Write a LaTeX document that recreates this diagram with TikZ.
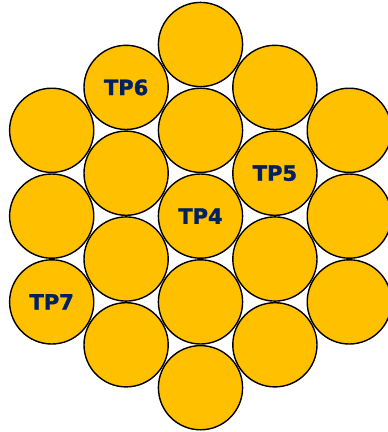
\documentclass[tikz,border=0pt]{standalone}
\usepackage{fontspec}
\newfontfamily\lblfont[BoldFeatures={FakeBold=1.6}]{DejaVu Sans}
\definecolor{gold}{HTML}{FFC000}
\definecolor{navy}{HTML}{002060}
\begin{document}
\begin{tikzpicture}[x=1pt,y=-1pt,
  ball/.style={circle,draw=black,line width=1.4pt,fill=gold,minimum size=84.2pt,inner sep=0pt,
    font=\lblfont\bfseries\fontsize{21}{21}\selectfont,text=navy}]
\useasboundingbox (0,0) rectangle (388,432);
% centre column
\node[ball] (c0a) at (200.5,44.5) {};
\node[ball] (c0b) at (200.5,130.3) {};
\node[ball] (c0c) at (200.5,216.1) {TP4};
\node[ball] (c0d) at (200.5,301.9) {};
\node[ball] (c0e) at (200.5,387.7) {};
% left inner column
\node[ball] (l1a) at (126.1,87.4) {TP6};
\node[ball] (l1b) at (126.1,173.2) {};
\node[ball] (l1c) at (126.1,259.0) {};
\node[ball] (l1d) at (126.1,344.8) {};
% right inner column
\node[ball] (r1a) at (274.9,87.4) {};
\node[ball] (r1b) at (274.9,173.2) {TP5};
\node[ball] (r1c) at (274.9,259.0) {};
\node[ball] (r1d) at (274.9,344.8) {};
% left outer column
\node[ball] (l2a) at (51.7,130.3) {};
\node[ball] (l2b) at (51.7,216.1) {};
\node[ball] (l2c) at (51.7,301.9) {TP7};
% right outer column
\node[ball] (r2a) at (349.3,130.3) {};
\node[ball] (r2b) at (349.3,216.1) {};
\node[ball] (r2c) at (349.3,301.9) {};
\end{tikzpicture}
\end{document}
